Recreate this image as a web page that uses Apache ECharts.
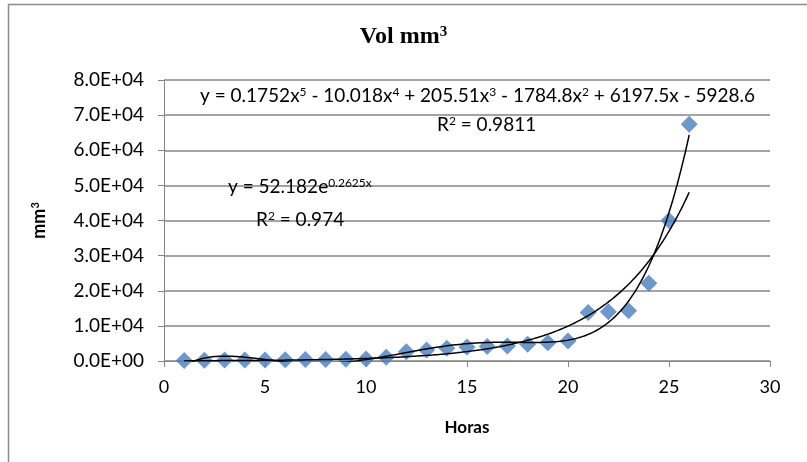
<!DOCTYPE html>
<html>
<head>
<meta charset="utf-8">
<script src="https://cdn.jsdelivr.net/npm/echarts@6/dist/echarts.min.js"></script>
<style>
  html, body { margin: 0; padding: 0; background: #fff; }
  #chart { width: 807px; height: 462px; }
</style>
</head>
<body>
<div id="chart"></div>
<script>
// horas and volume (mm3)
var horas = [1, 2, 3, 4, 5, 6, 7, 8, 9, 10, 11, 12, 13, 14, 15, 16, 17, 18, 19, 20, 21, 22, 23, 24, 25, 26];
var volumen = [150, 200, 250, 300, 300, 350, 400, 450, 500, 600, 1100, 2600, 3100, 3600, 4000, 4100, 4300, 4750, 5200, 5700, 13800, 14050, 14300, 22100, 40000, 67400];

// trendline coefficients as printed on the chart
var polyCoef = [-5928.6, 6197.5, -1784.8, 205.51, -10.018, 0.1752]; // c0..c5
var expCoef = [52.182, 0.2625];
var yTicks = [0, 80000, 10000];
var xTicks = [0, 30, 5];

var scatterData = horas.map(function (h, i) { return [h, volumen[i]]; });

var polyLine = [], expLine = [];
for (var x = horas[0]; x <= horas[horas.length - 1] + 1e-9; x += 0.1) {
  var p = 0;
  for (var k = polyCoef.length - 1; k >= 0; k--) p = p * x + polyCoef[k];
  polyLine.push([x, p]);
  expLine.push([x, expCoef[0] * Math.exp(expCoef[1] * x)]);
}

var chart = echarts.init(document.getElementById('chart'));
var lblFont = 'Lato, "Open Sans", sans-serif';
var supRich = {
  b: { fontFamily: lblFont, fontSize: 19, color: '#000' },
  s: { fontFamily: lblFont, fontSize: 12, color: '#000', padding: [0, 0, 8, 0] }
};

chart.setOption({
  animation: false,
  title: {
    text: '{t|Vol mm}{s|3}',
    left: 'center',
    top: 20,
    textStyle: {
      rich: {
        t: { fontFamily: '"Liberation Serif", serif', fontSize: 24, fontWeight: 'bold', color: '#000' },
        s: { fontFamily: '"Liberation Serif", serif', fontSize: 15, fontWeight: 'bold', color: '#000', padding: [0, 0, 9, 0] }
      }
    }
  },
  grid: { left: 164, right: 37, top: 80, bottom: 101 },
  xAxis: {
    type: 'value',
    min: xTicks[0], max: xTicks[1], interval: xTicks[2],
    name: 'Horas',
    nameLocation: 'middle',
    nameGap: 58,
    nameTextStyle: { fontFamily: lblFont, fontSize: 17, fontWeight: 'bold', color: '#000' },
    axisLine: { onZero: false, lineStyle: { color: '#868686', width: 1 } },
    axisTick: { show: true, length: 6, lineStyle: { color: '#868686' } },
    axisLabel: { fontFamily: lblFont, fontSize: 18, color: '#000', margin: 17 },
    splitLine: { show: false }
  },
  yAxis: {
    type: 'value',
    min: yTicks[0], max: yTicks[1], interval: yTicks[2],
    name: '{t|mm}{s|3}',
    nameLocation: 'middle',
    nameGap: 116,
    nameTextStyle: {
      rich: {
        t: { fontFamily: lblFont, fontSize: 18, fontWeight: 'bold', color: '#000' },
        s: { fontFamily: lblFont, fontSize: 11, fontWeight: 'bold', color: '#000', padding: [0, 0, 7, 0] }
      }
    },
    axisLine: { show: true, lineStyle: { color: '#868686', width: 1 } },
    axisTick: { show: true, length: 6, inside: false, lineStyle: { color: '#868686' } },
    axisLabel: {
      fontFamily: lblFont, fontSize: 19, color: '#000', margin: 20,
      formatter: function (v) {
        var e = v === 0 ? 0 : Math.floor(Math.log10(v));
        var m = v / Math.pow(10, e);
        var es = (e < 10 ? '0' : '') + e;
        return m.toFixed(1) + 'E+' + es;
      }
    },
    splitLine: { show: true, lineStyle: { color: '#868686', width: 1.5 } }
  },
  series: [
    {
      type: 'scatter',
      data: scatterData,
      symbol: 'diamond',
      symbolSize: [17, 17],
      itemStyle: { color: '#4A7EBB' },
      z: 2
    },
    {
      type: 'line',
      data: polyLine,
      showSymbol: false,
      lineStyle: { color: '#000', width: 1.5 },
      z: 3
    },
    {
      type: 'line',
      data: expLine,
      showSymbol: false,
      lineStyle: { color: '#000', width: 1.5 },
      z: 3
    }
  ],
  graphic: [
    {
      type: 'rect',
      shape: { x: 8.5, y: 4.5, width: 900, height: 600 },
      style: { fill: 'none', stroke: '#8c8c8c', lineWidth: 1.5 },
      silent: true
    },
    {
      type: 'text',
      left: 200, top: 86,
      style: {
        text: '{b|y = 0.1752x}{s|5}{b| - 10.018x}{s|4}{b| + 205.51x}{s|3}{b| - 1784.8x}{s|2}{b| + 6197.5x - 5928.6}',
        rich: supRich
      },
      z: 10
    },
    {
      type: 'text',
      left: 437, top: 115,
      style: { text: '{b|R}{s|2}{b| = 0.9811}', rich: supRich },
      z: 10
    },
    {
      type: 'text',
      left: 228, top: 177,
      style: { text: '{b|y = 52.182e}{s|0.2625x}', rich: supRich },
      z: 10
    },
    {
      type: 'text',
      left: 256, top: 210,
      style: { text: '{b|R}{s|2}{b| = 0.974}', rich: supRich },
      z: 10
    }
  ]
});
</script>
</body>
</html>
